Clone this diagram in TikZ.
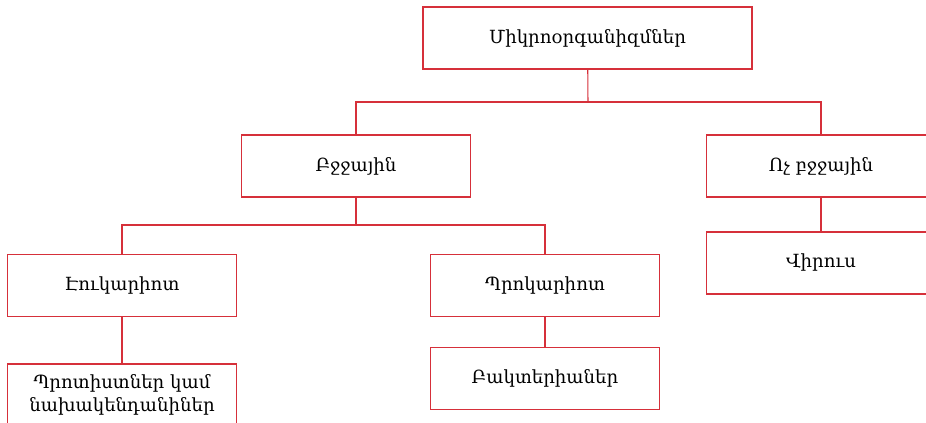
\documentclass[tikz,border=0pt]{standalone}
\usepackage{fontspec}
\setmainfont{DejaVu Serif}
\usetikzlibrary{positioning}
\definecolor{treered}{RGB}{214,48,58}

\begin{document}
\begin{tikzpicture}[
  x=0.75pt, y=-0.75pt,
  box/.style={draw=treered, line width=0.8pt, align=center, font=\fontsize{13.6}{17}\selectfont,
              minimum height=46.5pt, minimum width=171.75pt, inner sep=2pt},
  wide/.style={box, minimum width=246.75pt},
  link/.style={draw=treered, line width=0.8pt}]
  \clip (0,0) rectangle (926,423);
  %  -- - root  -- -
  \node[wide] (micro) at (587.5,38) {Միկրոօրգանիզմներ};
  \node[box] (cell) at (356,166) {Բջջային};
  \node[box] (noncell) at (821,166) {Ոչ բջջային};
  \coordinate (j1) at (588,102);
  \draw[link] (micro) -- (j1);
  \draw[link] (cell.north) |- (j1) -| (noncell.north);
  %  -- - cellular  -- -
  \node[box] (euk) at (122,285.5) {Էուկարիոտ};
  \node[box] (prok) at (545,285.5) {Պրոկարիոտ};
  \coordinate (j2) at (356,225);
  \draw[link] (cell) -- (j2);
  \draw[link] (euk.north) |- (j2) -| (prok.north);
  %  -- - leaves  -- -
  \node[box] (protist) at (122,395) {Պրոտիստներ կամ\\նախակենդանիներ};
  \node[box] (bact) at (545,378.5) {Բակտերիաներ};
  \node[box] (virus) at (821,263) {Վիրուս};
  \draw[link] (euk) -- (protist);
  \draw[link] (prok) -- (bact);
  \draw[link] (noncell) -- (virus);
\end{tikzpicture}
\end{document}
